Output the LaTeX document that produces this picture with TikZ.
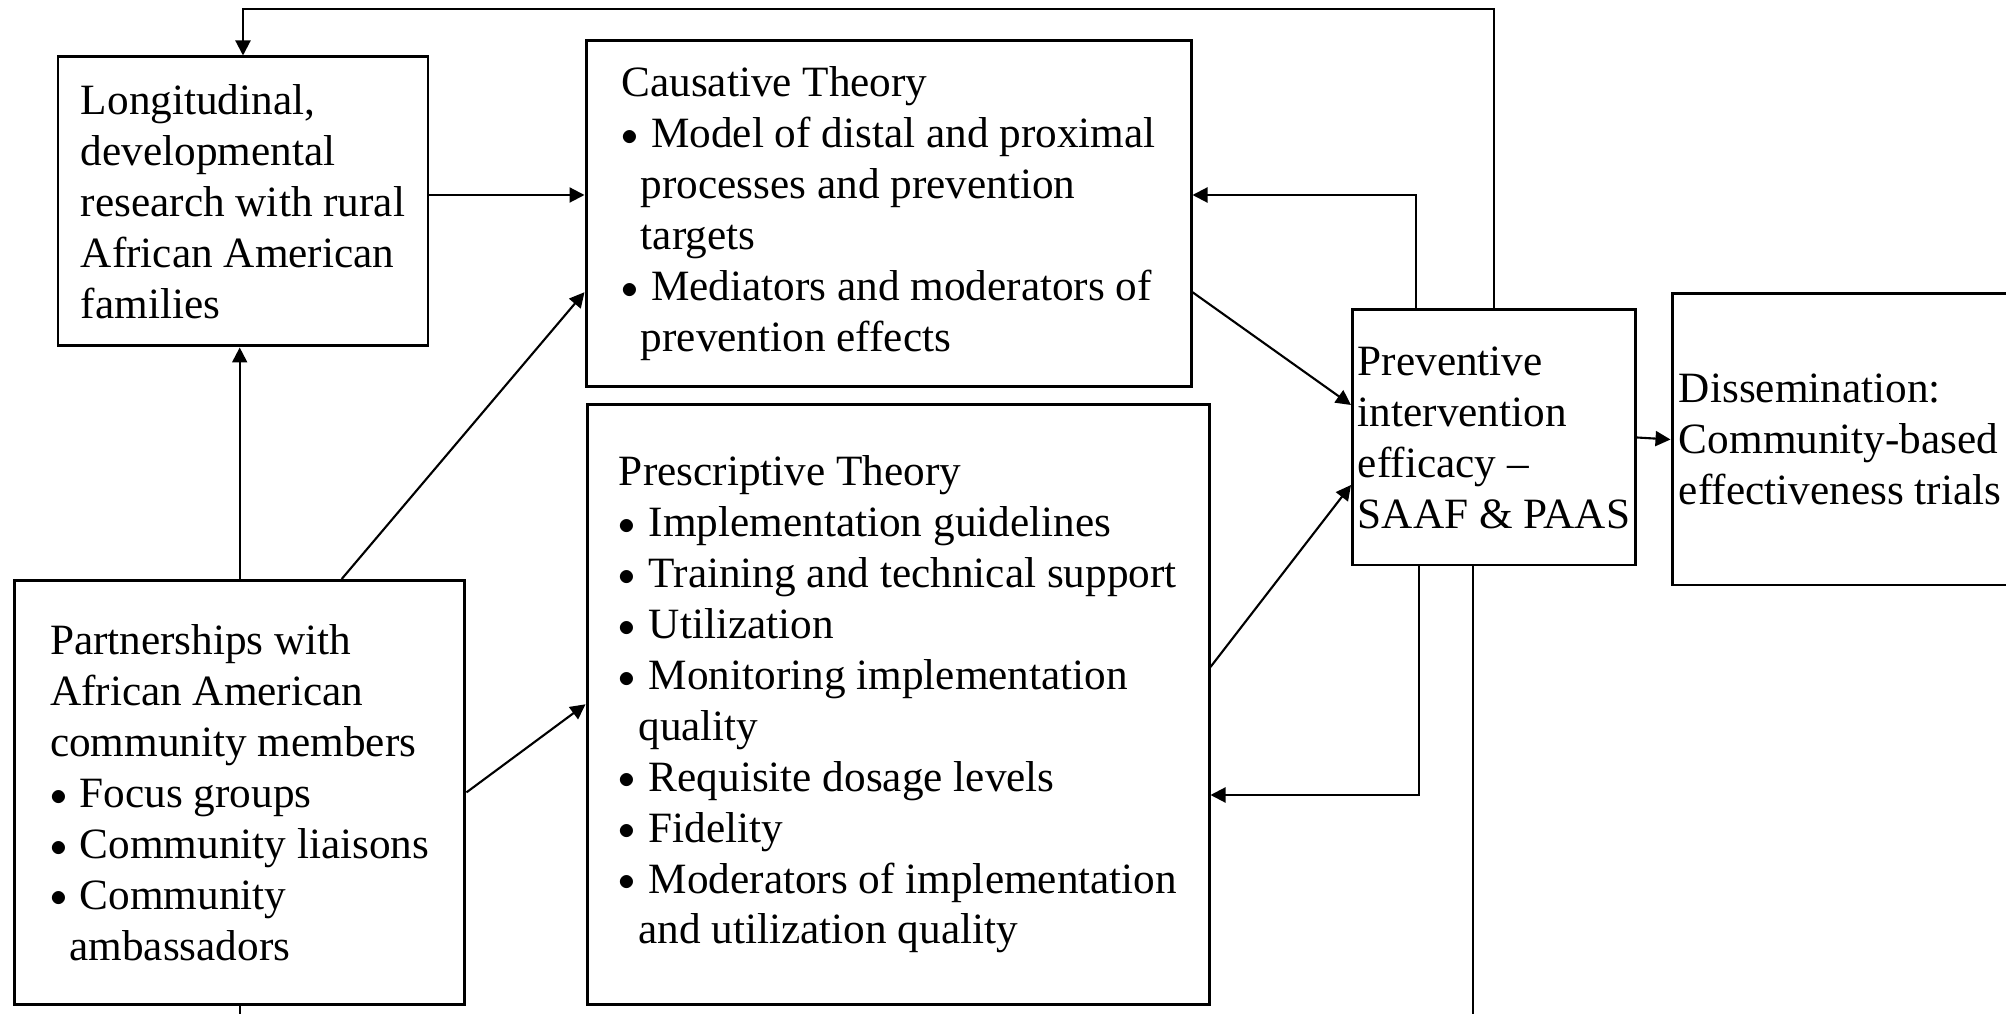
\documentclass[tikz,border=0pt]{standalone}
\usepackage{fontspec}
\setmainfont{Liberation Serif}
\usepackage{graphicx}
\usepackage{tikz}
\usetikzlibrary{arrows.meta,calc}

\newcommand{\ctbullet}{\raisebox{0.6pt}{\scalebox{0.8}{$\bullet$}}\hspace{0.3em}}
\newcommand{\ctindent}{\hspace*{0.45em}}

\begin{document}
\begin{tikzpicture}[
    blk/.style={draw, line width=0.85pt, inner sep=0pt, align=left,
        font=\fontsize{12.3pt}{14.5pt}\selectfont},
    arr/.style={line width=0.6pt, -{Triangle[length=0.15cm,width=0.15cm]}},
    wire/.style={line width=0.6pt}
]

% Frame
\fill[white] (0,0) rectangle (20.06,-10.14);
\useasboundingbox (0,0) rectangle (20.06,-10.14);
\clip (0,0) rectangle (20.06,-10.14);

% Boxes
\node[blk, minimum width=3.70cm, minimum height=2.89cm] (longi) at (2.43,-2.015)
  {Longitudinal,\\developmental\\research with rural\\African American\\families};

\node[blk, minimum width=6.05cm, minimum height=3.455cm] (caus) at (8.885,-2.137)
  {Causative Theory\\
   \ctbullet Model of distal and proximal\\
   \ctindent processes and prevention\\
   \ctindent targets\\
   \ctbullet Mediators and moderators of\\
   \ctindent prevention effects};

\node[blk, minimum width=6.22cm, minimum height=6.00cm] (presc) at (8.98,-7.043)
  {Prescriptive Theory\\
   \ctbullet Implementation guidelines\\
   \ctbullet Training and technical support\\
   \ctbullet Utilization\\
   \ctbullet Monitoring implementation\\
   \ctindent quality\\
   \ctbullet Requisite dosage levels\\
   \ctbullet Fidelity\\
   \ctbullet Moderators of implementation\\
   \ctindent and utilization quality};

\node[blk, minimum width=4.505cm, minimum height=4.238cm] (partn) at (2.397,-7.924)
  {Partnerships with\\African American\\community members\\
   \ctbullet Focus groups\\
   \ctbullet Community liaisons\\
   \ctbullet Community\\
   \ctindent ambassadors};

\node[blk, minimum width=2.83cm, minimum height=2.55cm] (prev) at (14.94,-4.375)
  {Preventive\\intervention\\efficacy --\\SAAF \& PAAS};

\node[blk, minimum width=3.36cm, minimum height=2.91cm] (diss) at (18.40,-4.395)
  {Dissemination:\\Community-based\\effectiveness trials};

% Connectors
\coordinate (topy) at (0,-0.09);
\coordinate (upA) at (14.16,-1.95);
\coordinate (dnA) at (14.19,-7.95);
\coordinate (dnB) at (14.73,-10.3);

\draw[arr] (prev.north) -- (prev.north |- topy) -| (longi.north);
\draw[arr] (upA |- prev.north) |- (caus.east |- upA);
\draw[arr] (longi.east |- upA) -- (caus.west |- upA);
\draw[arr] (partn.north) -- (partn.north |- longi.south);
\draw[arr] ([xshift=1.02cm]partn.north) -- ([yshift=-0.785cm]caus.west);
\draw[arr] (partn.east) -- (presc.west);
\draw[arr] ([yshift=-0.785cm]caus.east) -- ([yshift=0.325cm]prev.west);
\draw[arr] ([yshift=0.373cm]presc.east) -- ([yshift=-0.475cm]prev.west);
\draw[arr] (dnA |- prev.south) |- (presc.east |- dnA);
\draw[wire] (dnB |- prev.south) -- (dnB);
\draw[wire] (partn.south) -- ++(0,-0.3);
\draw[arr] (prev.east) -- (diss.west);

\end{tikzpicture}
\end{document}
